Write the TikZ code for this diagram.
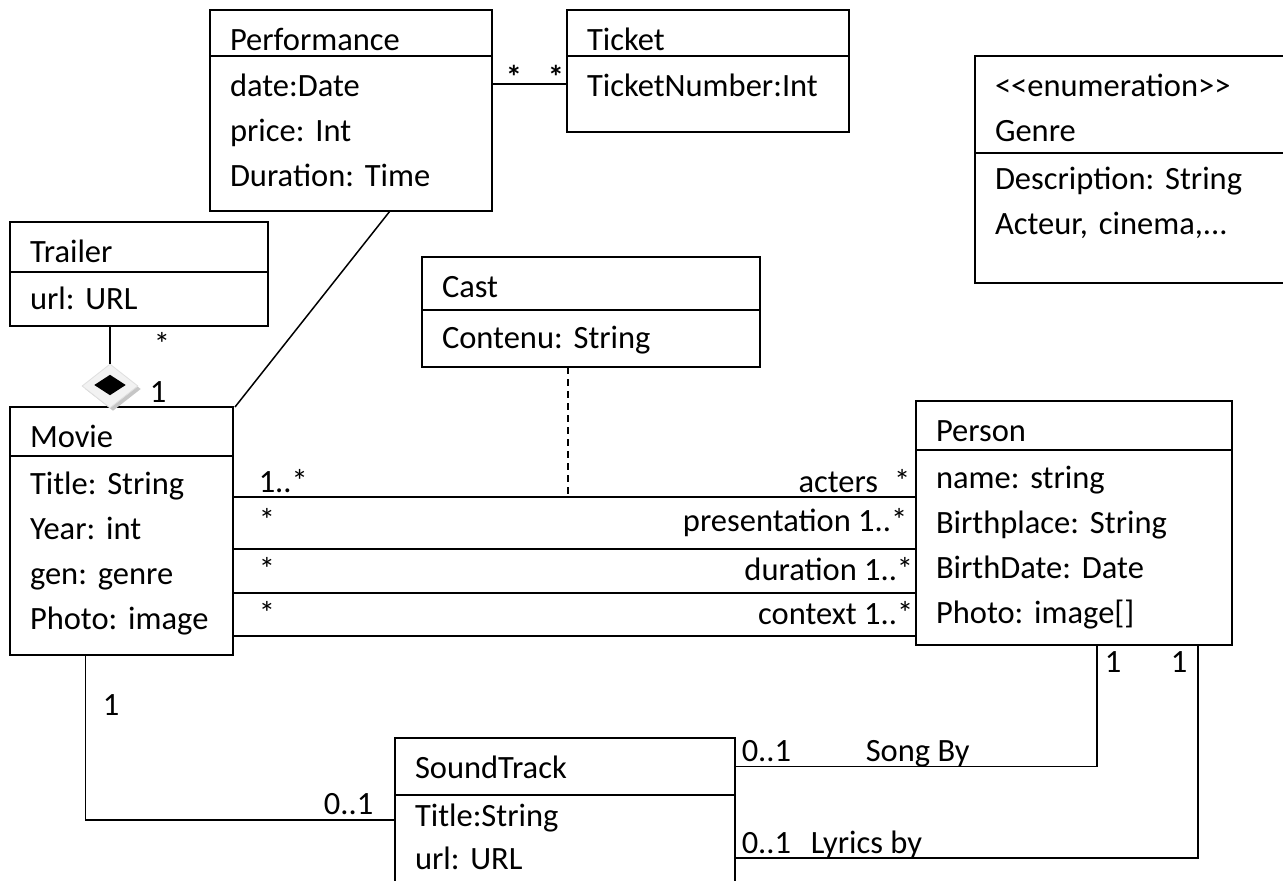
\documentclass[tikz,border=0pt]{standalone}
\usepackage{fontspec}
\setmainfont{Carlito}
\usetikzlibrary{shapes.geometric}
\frenchspacing

\begin{document}
\begin{tikzpicture}[x=1pt,y=-1pt,line width=1.5pt]
        \tikzset{
            every node/.style={font=\fontsize{32.5}{45}\selectfont},
            head/.style={draw,anchor=north west,align=left,outer sep=0pt,inner xsep=20pt,inner ysep=0pt,text height=40pt},
            attrs/.style={head,text height=37pt},
            mult/.style={inner sep=0pt,anchor=base west},
            multr/.style={inner sep=0pt,anchor=base east},
            castlink/.style={dash pattern=on 7pt off 5pt,line width=1.2pt}
        }

        \useasboundingbox (0,0) rectangle (1283,881);
        \fill[white] (0,0) rectangle (1283,881);
        \clip (0,0) rectangle (1283,881);

        % classes
        \node[head,text width=242pt,text depth=6pt] (perf) at (210,10) {Performance};
        \node[attrs,text width=242pt,text height=40pt,text depth=115pt] (perfB) at (perf.south west) {date:Date\\price: Int\\Duration: Time};

        \node[head,text width=242pt,text depth=6pt] (ticket) at (567,10) {Ticket};
        \node[attrs,text width=242pt,text height=40pt,text depth=36pt] (ticketB) at (ticket.south west) {TicketNumber:Int};

        \node[head,text width=290pt,text depth=57pt] (genre) at (975,56) {<{}<enumeration>{}>\\Genre};
        \node[attrs,text width=290pt,text height=36pt,text depth=94pt] (genreB) at (genre.south west) {Description: String\\Acteur, cinema,...};

        \node[head,text width=218pt,text depth=10pt] (trailer) at (10,222) {Trailer};
        \node[attrs,text width=218pt,text depth=17pt] (trailerB) at (trailer.south west) {url: URL};

        \node[head,text width=298pt,text depth=13pt] (cast) at (422,257) {Cast};
        \node[attrs,text width=298pt,text height=38pt,text depth=19pt] (castB) at (cast.south west) {Contenu: String};

        \node[head,text width=183pt,text depth=9pt] (movie) at (10,407) {Movie};
        \node[attrs,text width=183pt,text height=38pt,text depth=161pt] (movieB) at (movie.south west) {Title: String\\Year: int\\gen: genre\\Photo: image};

        \node[head,text width=276pt,text depth=9pt] (person) at (916,401) {Person};
        \node[attrs,text width=276pt,text height=38pt,text depth=157pt] (personB) at (person.south west) {name: string\\Birthplace: String\\BirthDate: Date\\Photo: image[]};

        \node[head,text width=300pt,text depth=17pt] (sound) at (395,738) {SoundTrack};
        \node[attrs,text width=300pt,text height=31pt,text depth=95pt,font=\fontsize{32.5}{43}\selectfont] (soundB) at (sound.south west) {Title:String\\url: URL};

        % composition diamond
        \node[diamond,fill=gray!45,minimum width=56pt,minimum height=44pt,inner sep=0pt] (aggsh) at (113,389) {};
        \node[diamond,fill=gray!10,draw=gray!25,line width=0.8pt,minimum width=56pt,minimum height=44pt,inner sep=0pt] (agghalo) at (110,386) {};
        \node[diamond,fill=black,minimum width=32pt,minimum height=21pt,inner sep=0pt] (agg) at (110,385) {};

        % connectors
        \draw (agghalo.north |- trailerB.south) -- (agghalo.north);
        \draw ([xshift=39pt]perfB.south) -- ([xshift=2pt]movie.north east);
        \draw (perfB.east |- 0,84) -- (ticketB.west |- 0,84);
        \foreach \yy in {497,549,593,636}
            \draw (movieB.east |- 0,\yy) -- (personB.west |- 0,\yy);
        \coordinate (cjoin) at (568,497);
        \draw[castlink] (cjoin |- castB.south) -- (cjoin);
        \draw ([xshift=-36pt]movieB.south) |- (soundB.west |- 0,820);
        \draw (sound.east) -| ([xshift=23pt]personB.south);
        \draw (soundB.east) -| ([xshift=124pt]personB.south);

        % multiplicities and roles
        \node[mult] (ptA) at (505,88) {\textbf{*}};
        \node[mult] (ptB) at (547,88) {\textbf{*}};
        \node[mult] (trM) at (153,355) {*};
        \node[mult] (mvT) at (149,402) {1};
        \node[mult] (acL) at (258,492) {1..*};
        \node[multr] (acR) at (911,492) {acters\hspace{16pt}*};
        \node[mult] (prL) at (258,531) {*};
        \node[multr] (prR) at (908,531) {presentation 1..*};
        \node[mult] (duL) at (258,580) {*};
        \node[multr] (duR) at (914,580) {duration 1..*};
        \node[mult] (coL) at (258,624) {*};
        \node[multr] (coR) at (914,624) {context 1..*};
        \node[mult] (mvS) at (102,715) {1};
        \node[multr] (stM) at (374,814) {0..1};
        \node[mult] (sgS) at (741,761) {0..1};
        \node[mult] (sgN) at (865,761) {Song By};
        \node[mult] (lyS) at (741,853) {0..1};
        \node[mult] (lyN) at (810,853) {Lyrics by};
        \node[mult] (psA) at (1104,672) {1};
        \node[mult] (psB) at (1170,672) {1};
    \end{tikzpicture}
\end{document}
